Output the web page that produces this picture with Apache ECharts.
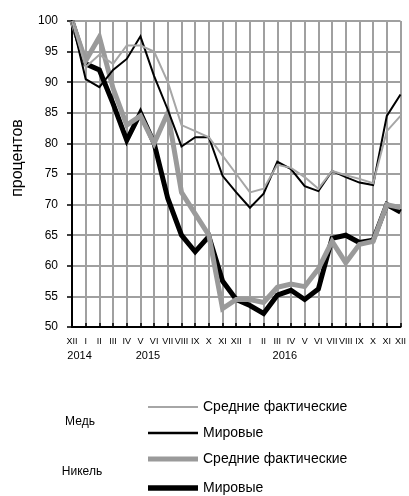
<!DOCTYPE html>
<html>
<head>
<meta charset="utf-8">
<style>
html,body{margin:0;padding:0;background:#fff;}
#chart{width:409px;height:496px;}
</style>
<script src="https://cdn.jsdelivr.net/npm/echarts@6/dist/echarts.min.js"></script>
</head>
<body>
<div id="chart"></div>
<script>
const categories = ['XII','I','II','III','IV','V','VI','VII','VIII','IX','X','XI','XII','I','II','III','IV','V','VI','VII','VIII','IX','X','XI','XII'];
const years = [{idx: 0, text: '2014'}, {idx: 5, text: '2015'}, {idx: 15, text: '2016'}];
const copperAvg   = [100, 92.5, 94.5, 93, 96, 96, 95, 90, 83, 82, 81, 78, 75, 72, 72.6, 76.5, 76, 74.5, 72.6, 75.5, 74.8, 74.2, 73.5, 82, 84.5];
const copperWorld = [100, 90.5, 89.2, 92, 93.8, 97.5, 91, 85.5, 79.5, 81, 81, 74.7, 72, 69.5, 71.8, 77, 75.8, 73, 72.2, 75.5, 74.5, 73.6, 73.2, 84.5, 88];
const nickelAvg   = [100, 93.5, 97.4, 89, 83, 84.5, 80, 85, 72, 68.5, 65, 53, 54.5, 54.5, 54, 56.5, 57, 56.6, 59.5, 64, 60.5, 63.5, 64, 70, 69.5];
const nickelWorld = [100, 93, 92, 86.5, 80.5, 85, 80, 71, 65, 62.3, 64.8, 57.5, 54.5, 53.5, 52.2, 55.2, 56, 54.5, 56.2, 64.5, 65, 63.8, 64.2, 70, 68.8];
const yTicks = {min: 50, max: 100, interval: 5};

const FONT = '"Liberation Sans", Arial, sans-serif';
const chart = echarts.init(document.getElementById('chart'), null, {renderer: 'canvas'});

function line(name, data, color, width, z) {
  return {name, type: 'line', data, showSymbol: false, symbol: 'none',
    lineStyle: {color, width, join: 'miter'}, z, animation: false};
}

chart.setOption({
  animation: false,
  grid: {left: 72, right: 7, top: 21, bottom: 169},
  xAxis: {
    type: 'category', data: categories, boundaryGap: false,
    axisLine: {lineStyle: {color: '#000', width: 2}},
    axisTick: {show: true, inside: true, length: 4, interval: 0, lineStyle: {color: '#000', width: 1.5}},
    axisLabel: {interval: 0, fontSize: 9, color: '#000', margin: 10, fontFamily: FONT},
    splitLine: {show: true, interval: 0, lineStyle: {color: '#a0a0a0', width: 2}}
  },
  yAxis: {
    type: 'value', min: yTicks.min, max: yTicks.max, interval: yTicks.interval,
    axisLine: {show: true, lineStyle: {color: '#000', width: 2}},
    axisTick: {show: true, length: 5, lineStyle: {color: '#000', width: 1.5}},
    axisLabel: {fontSize: 12, color: '#000', margin: 14, fontFamily: FONT},
    splitLine: {show: true, lineStyle: {color: '#a0a0a0', width: 2}}
  },
  series: [
    line('Никель — Мировые', nickelWorld, '#000', 5, 2),
    line('Никель — Средние фактические', nickelAvg, '#9a9a9a', 5, 3),
    line('Медь — Мировые', copperWorld, '#000', 2, 4),
    line('Медь — Средние фактические', copperAvg, '#a6a6a6', 2, 5)
  ]
});

const g = [];
years.forEach(y => {
  const px = chart.convertToPixel({xAxisIndex: 0}, y.idx);
  const step = chart.convertToPixel({xAxisIndex: 0}, 1) - chart.convertToPixel({xAxisIndex: 0}, 0);
  g.push({type: 'text', x: px + step * 0.55, y: 356,
    style: {text: y.text, fill: '#000', font: '11px ' + FONT, align: 'center', verticalAlign: 'middle'}});
});
g.push({type: 'text', x: 18, y: 158, rotation: Math.PI / 2,
  style: {text: 'процентов', font: '16px ' + FONT, fill: '#000', align: 'center', verticalAlign: 'middle'}});
const leg = [
  {y: 407, color: '#a6a6a6', w: 2, text: 'Средние фактические'},
  {y: 433, color: '#000', w: 2.5, text: 'Мировые'},
  {y: 459, color: '#9a9a9a', w: 5, text: 'Средние фактические'},
  {y: 488, color: '#000', w: 5.5, text: 'Мировые'}
];
leg.forEach(l => {
  g.push({type: 'line', shape: {x1: 148, y1: l.y, x2: 198, y2: l.y}, style: {stroke: l.color, lineWidth: l.w}});
  g.push({type: 'text', x: 203, y: l.y, style: {text: l.text, font: '14px ' + FONT, fill: '#000', verticalAlign: 'middle'}});
});
g.push({type: 'text', x: 80, y: 422, style: {text: 'Медь', font: '12px ' + FONT, fill: '#000', align: 'center', verticalAlign: 'middle'}});
g.push({type: 'text', x: 82, y: 472, style: {text: 'Никель', font: '12px ' + FONT, fill: '#000', align: 'center', verticalAlign: 'middle'}});
chart.setOption({graphic: g});
</script>
</body>
</html>
